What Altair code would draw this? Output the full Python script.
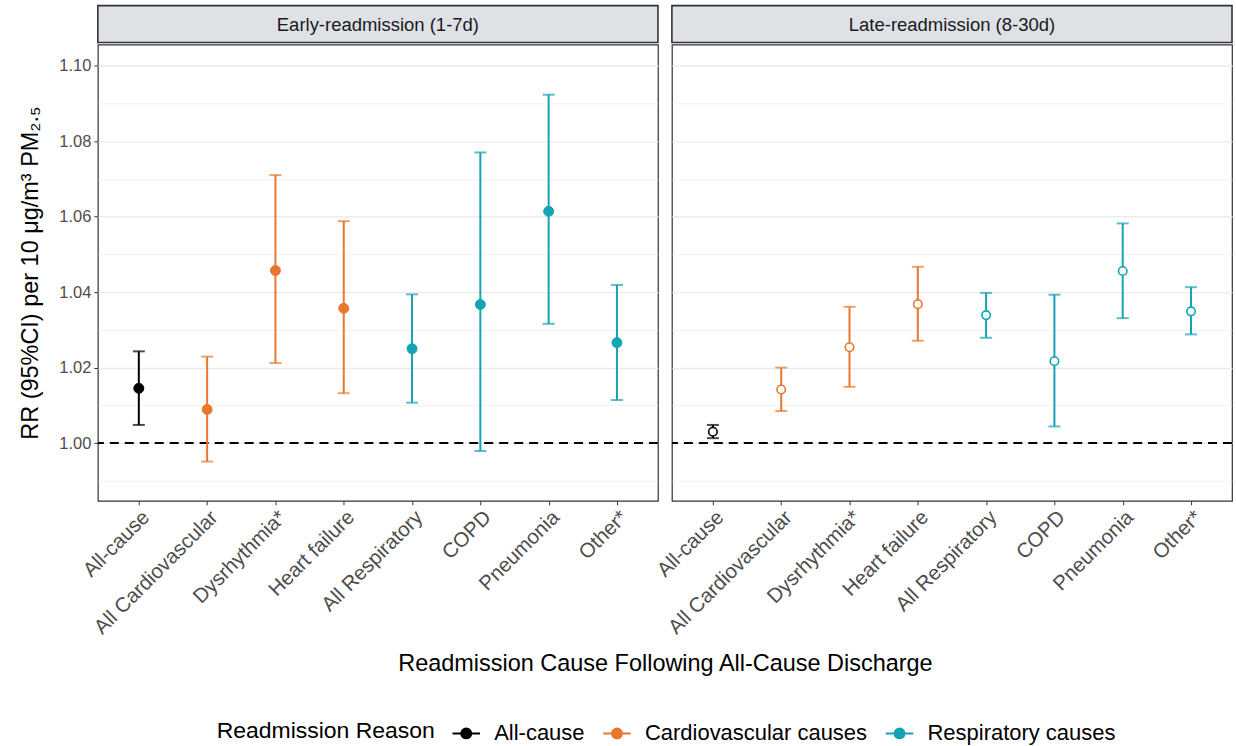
import altair as alt
import pandas as pd

categories = ["All-cause", "All Cardiovascular", "Dysrhythmia*", "Heart failure",
              "All Respiratory", "COPD", "Pneumonia", "Other*"]
groups = ["All-cause", "Cardiovascular causes", "Cardiovascular causes", "Cardiovascular causes",
          "Respiratory causes", "Respiratory causes", "Respiratory causes", "Respiratory causes"]

early_rr = [1.0145, 1.0089, 1.0457, 1.0357, 1.0250, 1.0367, 1.0614, 1.0266]
early_lo = [1.0048, 0.9951, 1.0212, 1.0132, 1.0107, 0.9979, 1.0316, 1.0114]
early_hi = [1.0243, 1.0229, 1.0710, 1.0588, 1.0394, 1.0770, 1.0923, 1.0419]

late_rr = [1.0030, 1.0142, 1.0254, 1.0368, 1.0339, 1.0217, 1.0456, 1.0349]
late_lo = [1.0013, 1.0085, 1.0149, 1.0271, 1.0279, 1.0044, 1.0331, 1.0288]
late_hi = [1.0048, 1.0200, 1.0361, 1.0467, 1.0398, 1.0393, 1.0582, 1.0413]

panel_titles = ["Early-readmission (1-7d)", "Late-readmission (8-30d)"]
group_order = ["All-cause", "Cardiovascular causes", "Respiratory causes"]
group_colors = ["#000000", "#E8772E", "#14A4B4"]
ref_value = [1.0]
grid_values = [0.99, 1.00, 1.01, 1.02, 1.03, 1.04, 1.05, 1.06, 1.07, 1.08, 1.09, 1.10]

early_df = pd.DataFrame({"cause": categories, "group": groups, "rr": early_rr,
                         "lo": early_lo, "hi": early_hi})
late_df = pd.DataFrame({"cause": categories, "group": groups, "rr": late_rr,
                        "lo": late_lo, "hi": late_hi})
ref_df = pd.DataFrame({"ref": ref_value})

W = 561
H = 457
STRIP_H = 37
GAP = 14
FONT = "Liberation Sans"

cscale = alt.Scale(domain=group_order, range=group_colors)
yscale = alt.Scale(domain=[0.9847, 1.1056], nice=False, zero=False)

major_test = "round(datum.value*100) % 2 == 0"


def y_axis(left):
    common = dict(
        values=grid_values,
        grid=True,
        gridColor="#EBEBEB",
        gridWidth={"condition": {"test": major_test, "value": 1.3}, "value": 0.7},
        domain=False,
    )
    if left:
        return alt.Axis(
            title="RR (95%CI) per 10 \u03bcg/m\u00b3 PM\u2082.\u2085",
            titleFontSize=23.5, titleFontWeight="normal", titleColor="#000000",
            titlePadding=16,
            labelFontSize=16.5, labelColor="#4D4D4D", labelPadding=3,
            labelExpr="(round(datum.value*100) % 2 == 0) ? format(datum.value, '.2f') : ''",
            ticks=True, tickColor="#333333", tickSize=4, tickWidth=1,
            tickOpacity={"condition": {"test": major_test, "value": 1}, "value": 0},
            **common,
        )
    return alt.Axis(title=None, labels=False, ticks=False, **common)


def x_axis(left):
    kw = dict(
        labelAngle=-45, labelAlign="right", labelBaseline="top",
        labelFontSize=20.5, labelColor="#4D4D4D", labelPadding=2,
        ticks=True, tickColor="#333333", tickSize=4, tickWidth=1,
        domain=False, grid=False, labelOverlap=False, labelLimit=0,
    )
    if left:
        return alt.Axis(title="Readmission Cause Following All-Cause Discharge",
                        titleFontSize=23.5, titleFontWeight="normal", titleColor="#000000",
                        titleX=(2 * W + GAP) / 2, titleY=170, titleBaseline="alphabetic",
                        titleAnchor="start", titleAlign="center", **kw)
    return alt.Axis(title=None, **kw)


legend = alt.Legend(
    title="Readmission Reason", orient="none", legendX=119, legendY=38,
    direction="horizontal", titleOrient="left", titleFontSize=23,
    titleFontWeight="normal", titleColor="#000000", titlePadding=16,
    titleLimit=600,
    labelFontSize=22, labelColor="#000000", labelOffset=13, columnPadding=14,
    labelLimit=500, symbolOpacity=1,
    symbolType="M-1,0L1,0M0.36,0A0.36,0.36,0,1,1,-0.36,0A0.36,0.36,0,1,1,0.36,0Z",
    symbolSize=760, symbolStrokeWidth=2,
)


def main_panel(df, left):
    base = alt.Chart(df)
    x = alt.X("cause:N", sort=categories, scale=alt.Scale(type="point", padding=0.6),
              axis=x_axis(left))
    rules = base.mark_rule(strokeWidth=2).encode(
        x=x, y=alt.Y("lo:Q", scale=yscale, axis=y_axis(left)), y2="hi:Q",
        stroke=alt.Stroke("group:N", scale=cscale, legend=None),
    )
    cap_lo = base.mark_tick(thickness=2, size=12).encode(
        x=x, y=alt.Y("lo:Q", scale=yscale),
        fill=alt.Fill("group:N", scale=cscale, legend=None),
    )
    cap_hi = base.mark_tick(thickness=2, size=12).encode(
        x=x, y=alt.Y("hi:Q", scale=yscale),
        fill=alt.Fill("group:N", scale=cscale, legend=None),
    )
    ref = alt.Chart(ref_df).mark_rule(strokeWidth=2, strokeDash=[9, 6], color="#000000").encode(
        y=alt.Y("ref:Q", scale=yscale)
    )
    if left:
        pts = base.mark_point(shape="circle", filled=True, size=100, strokeWidth=1, opacity=1).encode(
            x=x, y=alt.Y("rr:Q", scale=yscale),
            fill=alt.Fill("group:N", scale=cscale, legend=None),
            stroke=alt.Stroke("group:N", scale=cscale, legend=None),
        )
    else:
        pts = base.mark_point(shape="circle", filled=True, size=72, strokeWidth=1.6, opacity=1,
                              fill="white").encode(
            x=x, y=alt.Y("rr:Q", scale=yscale),
            stroke=alt.Stroke("group:N", scale=cscale, legend=None),
        )
    return alt.layer(ref, rules, cap_lo, cap_hi, pts).properties(
        width=W, height=H,
        view=alt.ViewBackground(fill="white", stroke="#333333", strokeWidth=1.2),
    )


def strip(title):
    return alt.Chart(pd.DataFrame({"label": [title]})).mark_text(
        fontSize=18.5, color="#1A1A1A", font=FONT
    ).encode(
        text="label:N", x=alt.value(W / 2), y=alt.value(STRIP_H / 2 + 1)
    ).properties(
        width=W, height=STRIP_H,
        view=alt.ViewBackground(fill="#DEE1E6", stroke="#333333", strokeWidth=1.6),
    )


# legend-only chart (drawn from the same group list)
legend_df = pd.DataFrame({"group": group_order})
legend_chart = alt.Chart(legend_df).mark_point(
    shape="circle", filled=True, size=0, opacity=1
).encode(
    fill=alt.Fill("group:N", scale=cscale, legend=legend),
    stroke=alt.Stroke("group:N", scale=cscale, legend=legend),
).properties(width=W * 2 + GAP, height=1, view=alt.ViewBackground(stroke=None))

top = alt.hconcat(strip(panel_titles[0]), strip(panel_titles[1]), spacing=GAP, bounds="flush")
bottom = alt.hconcat(main_panel(early_df, True), main_panel(late_df, False),
                     spacing=GAP, bounds="flush")

chart = alt.vconcat(top, bottom, legend_chart, spacing=0).properties(
    padding={"left": 18, "top": 4, "right": 2, "bottom": 2},
).resolve_scale(fill="independent", stroke="independent").configure(font=FONT)

chart.save("out.html", embed_options={"renderer": "svg", "actions": False})
